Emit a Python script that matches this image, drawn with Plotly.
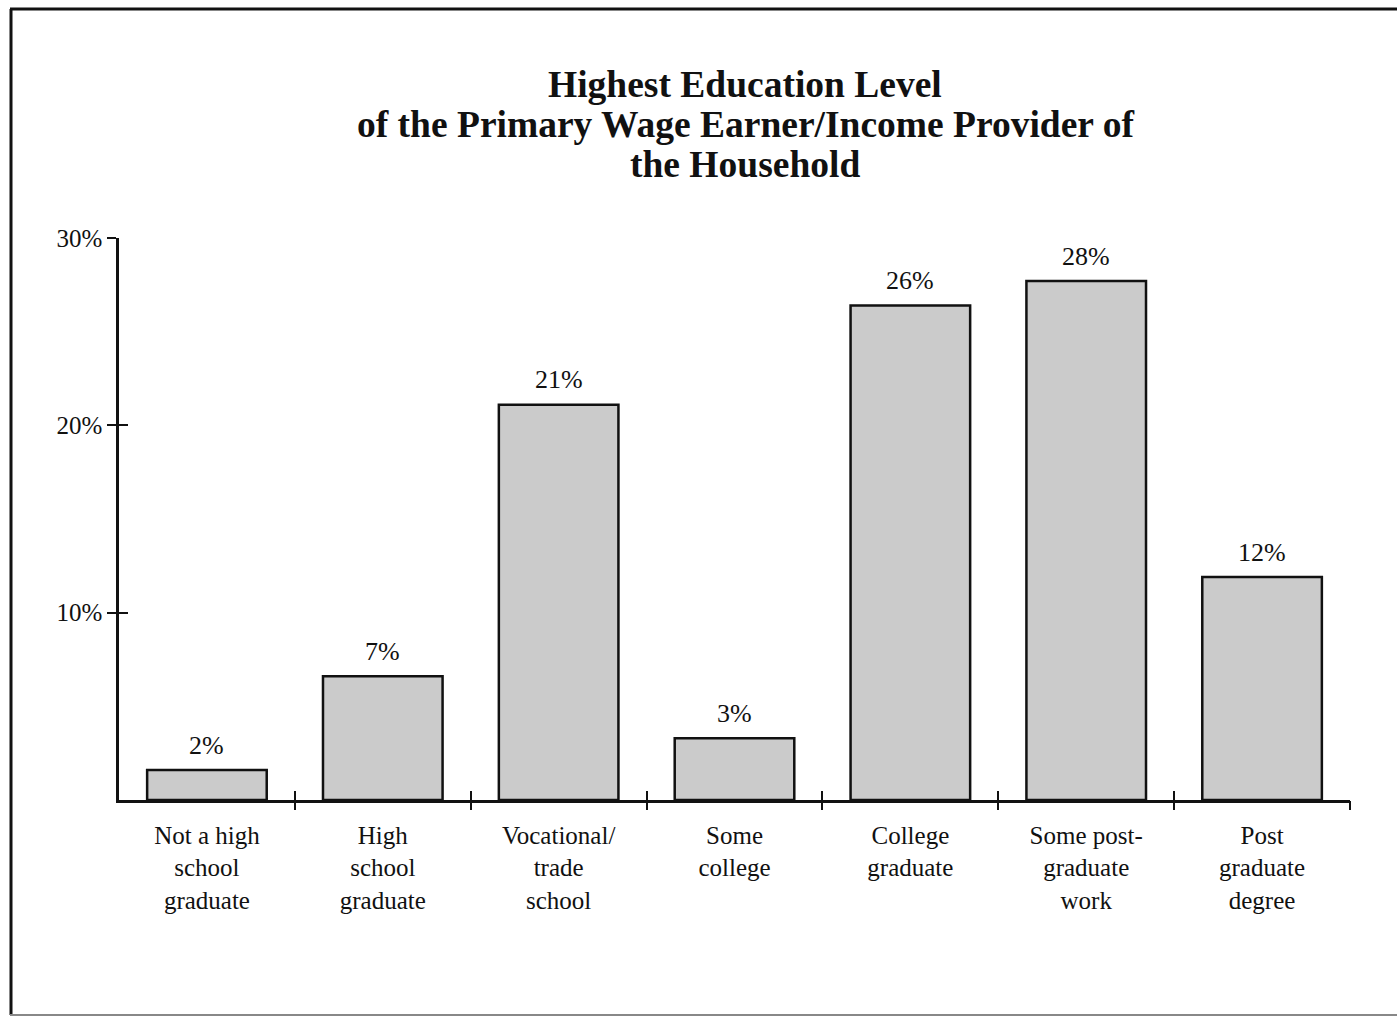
import plotly.graph_objects as go

# Survey results: highest education level of the primary wage earner
categories = [
    "Not a high<br>school<br>graduate",
    "High<br>school<br>graduate",
    "Vocational/<br>trade<br>school",
    "Some<br>college",
    "College<br>graduate",
    "Some post-<br>graduate<br>work",
    "Post<br>graduate<br>degree",
]
shares = [1.6, 6.6, 21.1, 3.3, 26.4, 27.7, 11.9]  # percent of households
y_ticks = [10, 20, 30]
y_tick_labels = ["10%", "20%", "30%"]
title_lines = [
    "Highest Education Level",
    "of the Primary Wage Earner/Income Provider of",
    "the Household",
]

W, H = 1397, 1017
ML, MR, MT, MB = 119, 47, 238, 217
SERIF = "Liberation Serif, Times New Roman, serif"
INK = "#111111"

positions = list(range(len(categories)))
boundaries = [p + 0.5 for p in positions]

pw, ph = W - ML - MR, H - MT - MB
def px_x(v):
    return (v - ML) / pw
def px_y(v):
    return (H - MB - v) / ph

fig = go.Figure()
fig.add_trace(go.Bar(
    x=positions,
    y=shares,
    width=0.68,
    marker=dict(color="#cbcbcb", line=dict(color=INK, width=2.5)),
    hoverinfo="skip",
    showlegend=False,
))

# value labels above each bar
for p, v in zip(positions, shares):
    fig.add_annotation(
        x=p, y=v, text=f"{v:.0f}%", showarrow=False,
        yshift=25, font=dict(family=SERIF, size=26, color=INK),
    )

# three-line title with tight leading
for i, line in enumerate(title_lines):
    fig.add_annotation(
        xref="paper", yref="paper", x=px_x(745), y=px_y(85 + 40 * i),
        xanchor="center", yanchor="middle", text=f"<b>{line}</b>",
        showarrow=False, font=dict(family=SERIF, size=37.5, color=INK),
    )

# invisible traces so the overlay axes (crossing tick marks) are drawn
for xa, ya in [("x2", "y"), ("x3", "y"), ("x", "y2")]:
    fig.add_trace(go.Scatter(x=[None], y=[None], xaxis=xa, yaxis=ya,
                             showlegend=False, hoverinfo="skip"))

xrange = [-0.5, len(categories) - 0.5]
yrange = [0, 30]
common_x = dict(range=xrange, fixedrange=True, showgrid=False, zeroline=False)
common_y = dict(range=yrange, fixedrange=True, showgrid=False, zeroline=False)

fig.update_layout(
    width=W, height=H,
    margin=dict(l=ML, r=MR, t=MT, b=MB, pad=0),
    paper_bgcolor="white", plot_bgcolor="white",
    xaxis=dict(
        **common_x,
        tickvals=positions, ticktext=categories, ticks="",
        showline=True, linecolor=INK, linewidth=2.5,
        tickfont=dict(family=SERIF, size=25, color=INK),
        ticklabelstandoff=11,
    ),
    xaxis2=dict(
        **common_x, overlaying="x", anchor="y", side="bottom",
        tickvals=boundaries, ticks="outside", ticklen=9, tickwidth=2,
        tickcolor=INK, showticklabels=False, showline=False,
    ),
    xaxis3=dict(
        **common_x, overlaying="x", anchor="y", side="bottom",
        tickvals=boundaries, ticks="inside", ticklen=9, tickwidth=2,
        tickcolor=INK, showticklabels=False, showline=False,
    ),
    yaxis=dict(
        **common_y,
        tickvals=y_ticks, ticktext=y_tick_labels,
        ticks="outside", ticklen=9, tickwidth=2, tickcolor=INK,
        showline=True, linecolor=INK, linewidth=2.5,
        tickfont=dict(family=SERIF, size=25, color=INK),
        ticklabelstandoff=0,
    ),
    yaxis2=dict(
        **common_y, overlaying="y", anchor="x", side="left",
        tickvals=y_ticks, ticks="inside", ticklen=9, tickwidth=2,
        tickcolor=INK, showticklabels=False, showline=False,
    ),
)

# page frame around the chart
fig.add_shape(type="line", xref="paper", yref="paper",
              x0=px_x(10), x1=px_x(1420), y0=px_y(9), y1=px_y(9),
              line=dict(color=INK, width=3))
fig.add_shape(type="line", xref="paper", yref="paper",
              x0=px_x(11), x1=px_x(11), y0=px_y(9), y1=px_y(1015),
              line=dict(color=INK, width=3))
fig.add_shape(type="line", xref="paper", yref="paper",
              x0=px_x(10), x1=px_x(1420), y0=px_y(1015), y1=px_y(1015),
              line=dict(color="#888888", width=2))

fig.write_html("out.html")
